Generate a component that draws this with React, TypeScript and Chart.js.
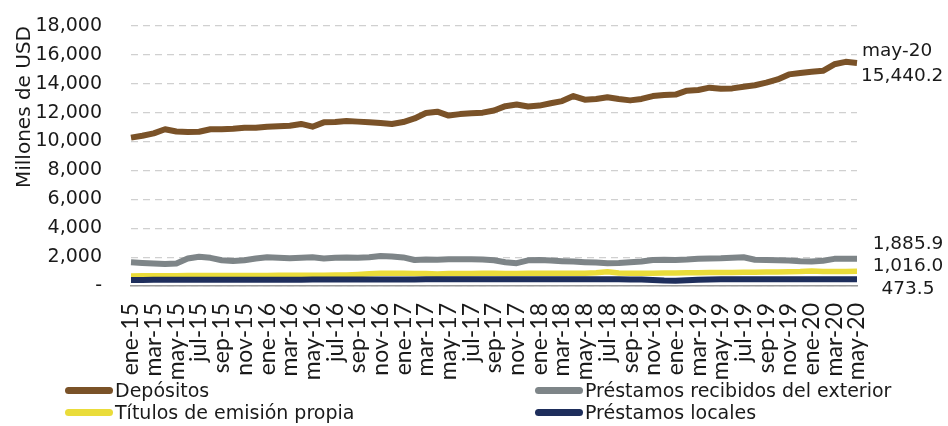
import React, { useEffect, useRef } from "react";
import { Chart, registerables } from "chart.js";

Chart.register(...registerables);

const categories = [
  "ene-15","feb-15","mar-15","abr-15","may-15","jun-15","jul-15","ago-15","sep-15","oct-15","nov-15","dic-15",
  "ene-16","feb-16","mar-16","abr-16","may-16","jun-16","jul-16","ago-16","sep-16","oct-16","nov-16","dic-16",
  "ene-17","feb-17","mar-17","abr-17","may-17","jun-17","jul-17","ago-17","sep-17","oct-17","nov-17","dic-17",
  "ene-18","feb-18","mar-18","abr-18","may-18","jun-18","jul-18","ago-18","sep-18","oct-18","nov-18","dic-18",
  "ene-19","feb-19","mar-19","abr-19","may-19","jun-19","jul-19","ago-19","sep-19","oct-19","nov-19","dic-19",
  "ene-20","feb-20","mar-20","abr-20","may-20",
];

const depositos = [
  10270, 10400, 10570, 10850, 10700, 10670, 10680, 10850, 10860, 10880, 10960, 10950,
  11030, 11060, 11100, 11220, 11030, 11330, 11350, 11430, 11380, 11330, 11280, 11220,
  11350, 11600, 11980, 12070, 11800, 11900, 11960, 12000, 12150, 12450, 12560, 12430,
  12490, 12650, 12800, 13150, 12900, 12950, 13070, 12950, 12850, 12950, 13150, 13230,
  13250, 13520, 13570, 13730, 13650, 13680, 13800, 13900, 14080, 14300, 14650, 14750,
  14830, 14900, 15350, 15520, 15440.2,
];

const prestamosExterior = [
  1640, 1600, 1560, 1520, 1560, 1900, 2030, 1950, 1780, 1730, 1780, 1900,
  1990, 1960, 1920, 1950, 1990, 1910, 1950, 1980, 1950, 1990, 2080, 2050,
  1980, 1800, 1830, 1820, 1850, 1860, 1850, 1840, 1780, 1650, 1580, 1780,
  1800, 1760, 1720, 1690, 1650, 1620, 1570, 1600, 1650, 1700, 1800, 1820,
  1800, 1830, 1880, 1900, 1920, 1960, 1990, 1820, 1800, 1780, 1760, 1720,
  1700, 1750, 1880, 1880, 1885.9,
];

const titulosEmision = [
  700, 705, 710, 710, 715, 720, 720, 725, 725, 730, 730, 735,
  735, 740, 740, 745, 745, 750, 755, 760, 800, 850, 880, 890,
  880, 870, 860, 830, 860, 870, 870, 875, 875, 870, 870, 875,
  875, 880, 880, 880, 885, 920, 980, 900, 880, 885, 890, 900,
  905, 910, 920, 930, 935, 940, 950, 960, 965, 970, 980, 1000,
  1040, 1010, 1000, 1010, 1016.0,
];

const prestamosLocales = [
  420, 422, 425, 425, 428, 430, 430, 432, 432, 435, 435, 437,
  438, 440, 440, 440, 442, 442, 445, 445, 448, 450, 452, 455,
  455, 458, 460, 460, 462, 462, 465, 465, 465, 468, 468, 470,
  470, 470, 468, 468, 470, 470, 465, 460, 455, 450, 420, 380,
  360, 390, 430, 455, 460, 462, 465, 468, 470, 470, 472, 472,
  470, 472, 474, 474, 473.5,
];

const yTicks = { min: 0, max: 18000, step: 2000 };

const seriesNames = [
  "Depósitos",
  "Préstamos recibidos del exterior",
  "Títulos de emisión propia",
  "Préstamos locales",
];
const seriesColors = ["#7A5228", "#7E8588", "#EADC3A", "#1E2E5C"];

const fmt1 = (v: number) =>
  v.toLocaleString("en-US", { minimumFractionDigits: 1, maximumFractionDigits: 1 });

const endLabels = {
  id: "endLabels",
  afterDatasetsDraw(chart: any) {
    const { ctx, chartArea } = chart;
    const y = chart.scales.y;
    const n = categories.length - 1;
    ctx.save();
    ctx.fillStyle = "#1a1a1a";
    ctx.font = "18.5px 'DejaVu Sans'";
    ctx.textBaseline = "middle";
    const yd = y.getPixelForValue(depositos[n]);
    ctx.textAlign = "left";
    ctx.fillText(categories[n], chartArea.right + 5, yd - 12);
    ctx.fillText(fmt1(depositos[n]), chartArea.right + 4, yd + 13);
    const base = y.getPixelForValue(titulosEmision[n]) - 5;
    ctx.textAlign = "center";
    const cx = chartArea.right + 51;
    ctx.fillText(fmt1(prestamosExterior[n]), cx, base - 22);
    ctx.fillText(fmt1(titulosEmision[n]), cx, base);
    ctx.fillText(fmt1(prestamosLocales[n]), cx, base + 23);
    ctx.restore();
  },
};

export default function App() {
  const ref = useRef<HTMLCanvasElement | null>(null);

  useEffect(() => {
    if (!ref.current) return;
    const data = [depositos, prestamosExterior, titulosEmision, prestamosLocales];
    const chart = new Chart(ref.current, {
      type: "line",
      data: {
        labels: categories,
        datasets: data.map((d, i) => ({
          label: seriesNames[i],
          data: d,
          borderColor: seriesColors[i],
          backgroundColor: seriesColors[i],
          borderWidth: i === 2 ? 5.5 : 6,
          pointRadius: 0,
          tension: 0,
          borderCapStyle: "butt" as const,
          borderJoinStyle: "round" as const,
          order: [0, 1, 3, 2][i],
        })),
      },
      options: {
        responsive: false,
        animation: false,
        devicePixelRatio: 1,
        layout: { padding: { left: 13, right: 91, top: 26, bottom: 0 } },
        plugins: {
          legend: { display: false },
          tooltip: { enabled: false },
        },
        scales: {
          x: {
            grid: { display: false, drawTicks: false },
            border: { display: true, color: "#9a9a9a", width: 1.5 },
            afterFit: (s: any) => {
              s.height = 140;
              s.paddingLeft = 0;
              s.paddingRight = 0;
            },
            ticks: {
              autoSkip: false,
              maxRotation: 90,
              minRotation: 90,
              padding: 17,
              color: "#1a1a1a",
              font: { family: "Lato", size: 23 },
              callback: (_v: any, i: number) => (i % 2 === 0 ? categories[i] : ""),
            },
          },
          y: {
            min: yTicks.min,
            max: yTicks.max,
            afterFit: (s: any) => {
              s.width = 118;
              s.paddingTop = 0;
              s.paddingBottom = 0;
            },
            grid: { color: "#d0d0d0", lineWidth: 1.2, drawTicks: false },
            border: { display: false, dash: [7, 5] },
            ticks: {
              autoSkip: false,
              stepSize: yTicks.step,
              padding: 29,
              color: "#1a1a1a",
              font: { family: "'DejaVu Sans'", size: 19 },
              callback: (v: any) => (v === 0 ? "-" : Number(v).toLocaleString("en-US")),
            },
            title: {
              display: true,
              text: "Millones de USD",
              align: "end",
              color: "#1a1a1a",
              font: { family: "'DejaVu Sans'", size: 20 },
              padding: { top: 0, bottom: 2 },
            },
          },
        },
      },
      plugins: [endLabels],
    });
    return () => chart.destroy();
  }, []);

  const legendItem = (i: number, left: number, top: number) => (
    <div
      key={i}
      style={{
        position: "absolute",
        left,
        top,
        display: "flex",
        alignItems: "center",
        height: 22,
        whiteSpace: "nowrap",
      }}
    >
      <span
        style={{
          display: "inline-block",
          width: 48,
          height: 7,
          borderRadius: 4,
          background: seriesColors[i],
          marginRight: 2,
        }}
      />
      <span style={{ fontFamily: "'DejaVu Sans'", fontSize: 19, color: "#1a1a1a" }}>
        {seriesNames[i]}
      </span>
    </div>
  );

  return (
    <div
      style={{
        position: "fixed",
        left: 0,
        top: 0,
        width: 948,
        height: 426,
        background: "#fff",
        overflow: "hidden",
      }}
    >
      <canvas ref={ref} width={948} height={426} style={{ display: "block" }} />
      {legendItem(0, 65, 379)}
      {legendItem(1, 535, 379)}
      {legendItem(2, 65, 401)}
      {legendItem(3, 535, 401)}
    </div>
  );
}
